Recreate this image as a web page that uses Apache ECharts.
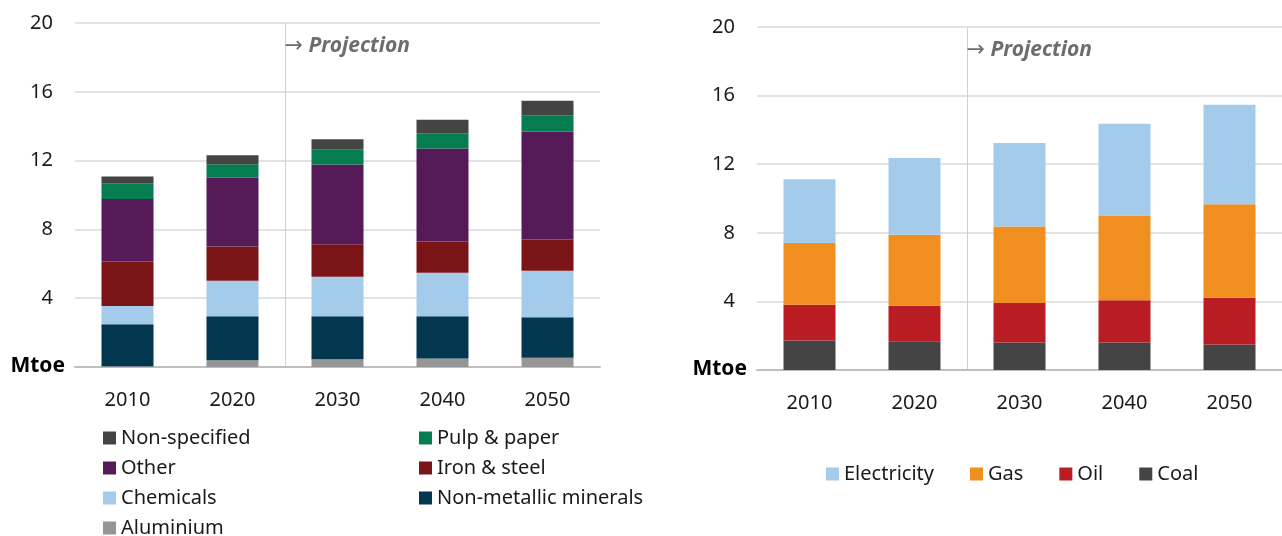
<!DOCTYPE html>
<html><head><meta charset="utf-8">
<script src="https://cdn.jsdelivr.net/npm/echarts@6/dist/echarts.min.js"></script>
<style>html,body{margin:0;padding:0;background:#fff}#c{width:1282px;height:536px}</style>
</head><body><div id="c"></div>
<script>
var years = ['2010','2020','2030','2040','2050'];
var yTicks = [0,4,8,12,16,20];
// Left chart: by sector (Mtoe)
var aluminium   = [0.04, 0.39, 0.45, 0.49, 0.54];
var nonMetallic = [2.45, 2.56, 2.50, 2.46, 2.35];
var chemicals   = [1.06, 2.06, 2.29, 2.53, 2.70];
var ironSteel   = [2.59, 2.00, 1.89, 1.82, 1.83];
var other       = [3.63, 4.00, 4.64, 5.40, 6.27];
var pulpPaper   = [0.91, 0.78, 0.89, 0.89, 0.95];
var nonSpec     = [0.39, 0.52, 0.58, 0.78, 0.84];
// Right chart: by fuel (Mtoe)
var coal        = [1.72, 1.67, 1.61, 1.61, 1.49];
var oil         = [2.08, 2.07, 2.30, 2.46, 2.72];
var gas         = [3.60, 4.15, 4.46, 4.94, 5.46];
var electricity = [3.72, 4.47, 4.87, 5.35, 5.80];

var FONT = 'Noto Sans';
var chart = echarts.init(document.getElementById('c'), null, {renderer:'canvas'});

function yAxis(gi){
  return {type:'value', gridIndex:gi, min:0, max:20, interval:4,
    axisLine:{show:false}, axisTick:{show:false},
    axisLabel:{color:'#1a1a1a', fontFamily:FONT, fontSize:20, margin:22,
      formatter:function(v){return v===0?'':v;}},
    splitLine:{lineStyle:{color:'#d9d9d9', width:1.5}}};
}
function xAxis(gi){
  return {type:'category', gridIndex:gi, data:years,
    axisLine:{lineStyle:{color:'#bfbfbf', width:2}}, axisTick:{show:false},
    axisLabel:{color:'#1a1a1a', fontFamily:FONT, fontSize:20, margin:23}};
}
function bar(name, data, color, gi, stack){
  return {name:name, type:'bar', stack:stack, xAxisIndex:gi, yAxisIndex:gi,
    data:data, barWidth:52, itemStyle:{color:color}, emphasis:{disabled:true}};
}
var legendText = {color:'#1a1a1a', fontFamily:FONT, fontSize:20};
function legend(orient, left, top, data, gap){
  return {orient:orient, left:left, top:top, itemWidth:13, itemHeight:13, itemGap:gap,
    textStyle:legendText, icon:'rect', itemTextGap:8, selectedMode:false, padding:0, data:data};
}

chart.setOption({
  animation:false,
  grid:[{left:75, right:682, top:23, bottom:169},
        {left:757, right:0, top:27, bottom:166}],
  xAxis:[xAxis(0), xAxis(1)],
  yAxis:[yAxis(0), yAxis(1)],
  legend:[
    legend('vertical', 103, 428, ['Non-specified','Other','Chemicals'], 10),
    legend('vertical', 103, 518, ['Aluminium'], 10),
    legend('vertical', 419, 428, ['Pulp & paper','Iron & steel','Non-metallic minerals'], 10),
    legend('horizontal', 826, 464, ['Electricity','Gas','Oil','Coal'], 36)
  ],
  series:[
    bar('Aluminium', aluminium, '#969696', 0, 'a'),
    bar('Non-metallic minerals', nonMetallic, '#03374f', 0, 'a'),
    bar('Chemicals', chemicals, '#a5cbea', 0, 'a'),
    bar('Iron & steel', ironSteel, '#7b1416', 0, 'a'),
    bar('Other', other, '#561a59', 0, 'a'),
    bar('Pulp & paper', pulpPaper, '#057d50', 0, 'a'),
    bar('Non-specified', nonSpec, '#444444', 0, 'a'),
    bar('Coal', coal, '#444444', 1, 'b'),
    bar('Oil', oil, '#b91d23', 1, 'b'),
    bar('Gas', gas, '#f18e20', 1, 'b'),
    bar('Electricity', electricity, '#a5cbea', 1, 'b')
  ]
});

// Projection divider and Mtoe labels, positioned via the axes
var g = [];
[0,1].forEach(function(gi){
  var x1 = chart.convertToPixel({xAxisIndex:gi}, '2020');
  var x2 = chart.convertToPixel({xAxisIndex:gi}, '2030');
  var xm = Math.round((x1+x2)/2)+0.5;
  var yTop = chart.convertToPixel({yAxisIndex:gi}, 20);
  var yBot = chart.convertToPixel({yAxisIndex:gi}, 0);
  var gridLeft = chart.convertToPixel({xAxisIndex:gi}, '2010') - 52.5;
  g.push({type:'line', silent:true, z:0,
    shape:{x1:xm, y1:yTop, x2:xm, y2:yBot},
    style:{stroke:'#d0d0d0', lineWidth:1}});
  g.push({type:'text', silent:true, z:10,
    x:xm-1, y:yTop+23,
    style:{text:'{a|\u2192}{p| Projection}', verticalAlign:'middle',
      rich:{a:{fontFamily:'DejaVu Sans', fontSize:22, fill:'#6d6d6d', fontWeight:'normal'},
            p:{fontFamily:FONT, fontSize:21, fontStyle:'italic', fontWeight:'bold', fill:'#6d6d6d'}}}});
  g.push({type:'text', silent:true, z:10,
    x:gridLeft-10, y:yBot-1,
    style:{text:'Mtoe', align:'right', verticalAlign:'middle',
      fontFamily:FONT, fontSize:21, fontWeight:'bold', fill:'#000'}});
});
chart.setOption({graphic:g});
</script></body></html>
